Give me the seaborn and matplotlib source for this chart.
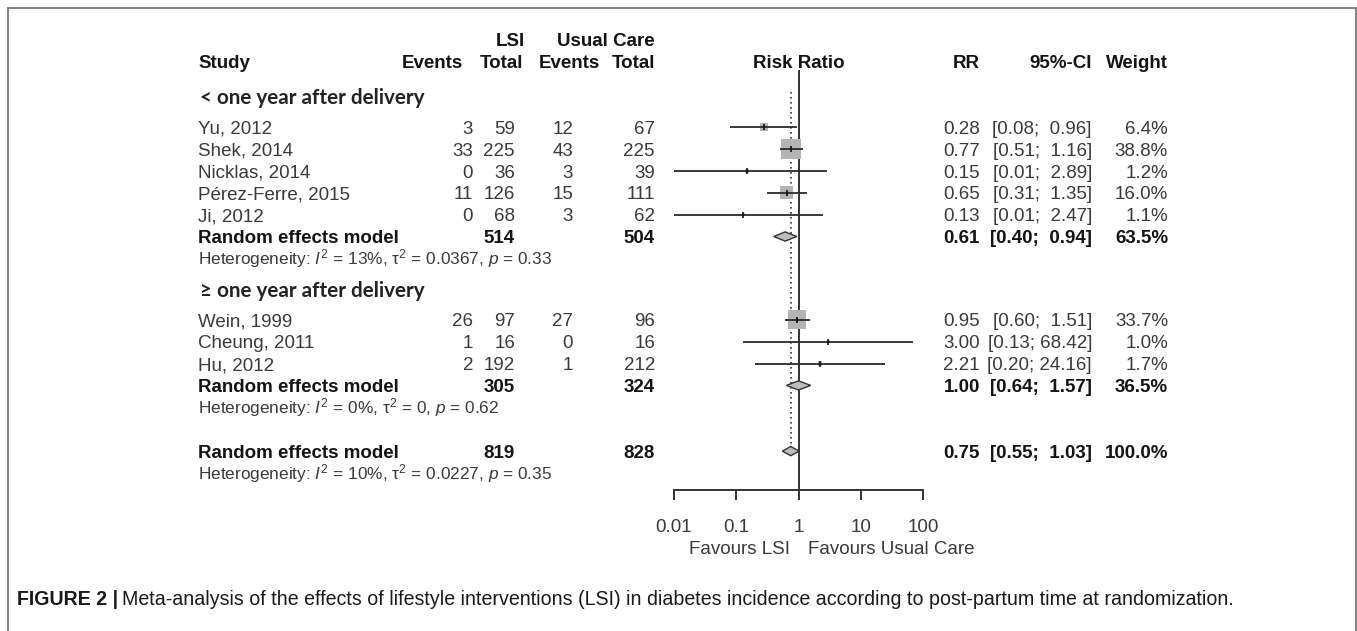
import matplotlib
matplotlib.use("Agg")
import matplotlib.pyplot as plt
import matplotlib.patches as mpatches
import numpy as np
import pandas as pd
import seaborn as sns

# ---- study data -------------------------------------------------------
grp1_study = ["Yu, 2012", "Shek, 2014", "Nicklas, 2014", "Pérez-Ferre, 2015", "Ji, 2012"]
grp1_ev_lsi = [3, 33, 0, 11, 0]
grp1_n_lsi = [59, 225, 36, 126, 68]
grp1_ev_uc = [12, 43, 3, 15, 3]
grp1_n_uc = [67, 225, 39, 111, 62]
grp1_rr = [0.28, 0.77, 0.15, 0.65, 0.13]
grp1_lo = [0.08, 0.51, 0.01, 0.31, 0.01]
grp1_hi = [0.96, 1.16, 2.89, 1.35, 2.47]
grp1_w = [6.4, 38.8, 1.2, 16.0, 1.1]

grp2_study = ["Wein, 1999", "Cheung, 2011", "Hu, 2012"]
grp2_ev_lsi = [26, 1, 2]
grp2_n_lsi = [97, 16, 192]
grp2_ev_uc = [27, 0, 1]
grp2_n_uc = [96, 16, 212]
grp2_rr = [0.95, 3.00, 2.21]
grp2_lo = [0.60, 0.13, 0.20]
grp2_hi = [1.51, 68.42, 24.16]
grp2_w = [33.7, 1.0, 1.7]

# pooled estimates: (RR, lower, upper, weight, total LSI, total usual care)
pooled_grp1 = (0.61, 0.40, 0.94, 63.5, 514, 504)
pooled_grp2 = (1.00, 0.64, 1.57, 36.5, 305, 324)
pooled_all = (0.75, 0.55, 1.03, 100.0, 819, 828)

het_grp1 = ("13%", "0.0367", "0.33")
het_grp2 = ("0%", "0", "0.62")
het_all = ("10%", "0.0227", "0.35")

section_titles = ["< one year after delivery", "\u2265 one year after delivery"]
x_ticks = [0.01, 0.1, 1, 10, 100]
x_tick_labels = ["0.01", "0.1", "1", "10", "100"]

caption_bold = "FIGURE 2 |"
caption_text = ("Meta-analysis of the effects of lifestyle interventions (LSI) in diabetes "
                "incidence according to post-partum time at randomization.")

# ---- layout -----------------------------------------------------------
W, H = 1357, 631
ROW = 21.9          # pixel height of one table row
Y0 = 127            # pixel position of the first study row


def row_of(px):
    return (px - Y0) / ROW


sns.set_theme(style="white")
plt.rcParams["font.family"] = ["Liberation Sans", "DejaVu Sans"]
plt.rcParams["mathtext.fontset"] = "custom"
plt.rcParams["mathtext.rm"] = "Liberation Sans"
plt.rcParams["mathtext.it"] = "Liberation Sans:italic"
plt.rcParams["mathtext.bf"] = "Liberation Sans:bold"

GREY = "#3a3a3a"
DARK = "#141414"
FS = 13.5

fig = plt.figure(figsize=(W / 100, H / 100), dpi=100)
fig.patch.set_facecolor("white")

tab = fig.add_axes([0, 0, 1, 1])
tab.set_xlim(0, W)
tab.set_ylim(row_of(H), row_of(0))
tab.axis("off")

# row slots (in row units)
r_head_top, r_head = -4.0, -3.0
r_sec1 = -1.4
r_g1 = [0, 1, 2, 3, 4]
r_g1_pool, r_g1_het = 5, 6
r_sec2 = 7.4
r_g2 = [8.8, 9.8, 10.8]
r_g2_pool, r_g2_het = 11.8, 12.8
r_all, r_all_het = 14.8, 15.8

# column anchors (pixels)
X_STUDY = 198
X_EV_LSI, X_N_LSI, X_EV_UC, X_N_UC = 473, 515, 573, 655
X_RR, X_CI, X_W = 980, 1092, 1168


def txt(x, y, s, ha="right", bold=False, color=None, size=FS, family=None):
    """Table text; the baseline sits a little below the row centre so that
    rows with and without descenders line up."""
    kw = {}
    if family is not None:
        kw["family"] = family
    base = y + (size * 100 / 72) * 0.36 / ROW
    tab.text(x, base, s, ha=ha, va="baseline", fontsize=size,
             fontweight="bold" if bold else "normal",
             color=color if color else (DARK if bold else GREY), **kw)


# header
txt(525, r_head_top, "LSI", bold=True)
txt(655, r_head_top, "Usual Care", bold=True)
txt(X_STUDY, r_head, "Study", ha="left", bold=True)
txt(463, r_head, "Events", bold=True)
txt(523, r_head, "Total", bold=True)
txt(600, r_head, "Events", bold=True)
txt(655, r_head, "Total", bold=True)
txt(799, r_head, "Risk Ratio", ha="center", bold=True)
txt(X_RR, r_head, "RR", bold=True)
txt(X_CI, r_head, "95%-CI", bold=True)
txt(X_W, r_head, "Weight", bold=True)


def ci_str(lo, hi):
    return f"[{lo:.2f}; {hi:5.2f}]"


def study_rows(rows, names, ev_l, n_l, ev_u, n_u, rr, lo, hi, w):
    for r, nm, a, b, c, d, e, l, h, ww in zip(rows, names, ev_l, n_l, ev_u, n_u, rr, lo, hi, w):
        txt(X_STUDY, r, nm, ha="left")
        txt(X_EV_LSI, r, str(a))
        txt(X_N_LSI, r, str(b))
        txt(X_EV_UC, r, str(c))
        txt(X_N_UC, r, str(d))
        txt(X_RR, r, f"{e:.2f}")
        txt(X_CI, r, ci_str(l, h))
        txt(X_W, r, f"{ww:.1f}%")


def pooled_row(r, pooled):
    rr, lo, hi, w, n_l, n_u = pooled
    txt(X_STUDY, r, "Random effects model", ha="left", bold=True)
    txt(X_N_LSI, r, str(n_l), bold=True)
    txt(X_N_UC, r, str(n_u), bold=True)
    txt(X_RR, r, f"{rr:.2f}", bold=True)
    txt(X_CI, r, ci_str(lo, hi), bold=True)
    txt(X_W, r, f"{w:.1f}%", bold=True)


def het_row(r, het):
    i2, t2, p = het
    s = (r"Heterogeneity: $I^2$ = " + i2 + r", $\mathrm{\tau}^2$ = " + t2
         + r", $p$ = " + p)
    txt(X_STUDY, r, s, ha="left", size=12.4)


SEC_FONT = ["Lato", "DejaVu Sans"]
txt(X_STUDY + 2, r_sec1, section_titles[0], ha="left", bold=True, size=14.9,
    family=SEC_FONT, color="#222222")
study_rows(r_g1, grp1_study, grp1_ev_lsi, grp1_n_lsi, grp1_ev_uc, grp1_n_uc,
           grp1_rr, grp1_lo, grp1_hi, grp1_w)
pooled_row(r_g1_pool, pooled_grp1)
het_row(r_g1_het, het_grp1)

txt(X_STUDY + 2, r_sec2, section_titles[1], ha="left", bold=True, size=14.9,
    family=SEC_FONT, color="#222222")
study_rows(r_g2, grp2_study, grp2_ev_lsi, grp2_n_lsi, grp2_ev_uc, grp2_n_uc,
           grp2_rr, grp2_lo, grp2_hi, grp2_w)
pooled_row(r_g2_pool, pooled_grp2)
het_row(r_g2_het, het_grp2)

pooled_row(r_all, pooled_all)
het_row(r_all_het, het_all)

# ---- forest panel ------------------------------------------------------
AX_L, AX_R, AX_B = 674, 923, 490
ax = fig.add_axes([AX_L / W, (H - AX_B) / H, (AX_R - AX_L) / W, AX_B / H])
ax.patch.set_alpha(0)
ax.set_xscale("log")
ax.set_xlim(0.01, 100)
ax.set_ylim(row_of(AX_B), row_of(0))
for side in ["top", "left", "right"]:
    ax.spines[side].set_visible(False)
ax.spines["bottom"].set_color("#333333")
ax.spines["bottom"].set_linewidth(1.4)
ax.set_xticks(x_ticks)
ax.set_xticklabels(x_tick_labels)
ax.minorticks_off()
ax.tick_params(axis="x", bottom=True, direction="out", length=7, width=1.4,
               color="#333333", pad=14, labelsize=FS, labelcolor=GREY)
ax.set_yticks([])
ax.grid(False)

study_df = pd.DataFrame({
    "row": r_g1 + r_g2,
    "rr": grp1_rr + grp2_rr,
    "lo": grp1_lo + grp2_lo,
    "hi": grp1_hi + grp2_hi,
    "weight": grp1_w + grp2_w,
})

# reference line at no effect and dotted line at the overall estimate
ax.vlines(1, row_of(70), row_of(AX_B), color="#333333", lw=1.4, zorder=1, clip_on=False)
ax.vlines(pooled_all[0], row_of(92), r_all - 0.2, color="#333333", lw=1.2,
          linestyles=(0, (1, 2)), zorder=1, clip_on=False)

# weight squares (area proportional to weight)
sns.scatterplot(data=study_df, x="rr", y="row", size="weight", sizes=(0, 540),
                size_norm=(0, 100), marker="s", color="#b4b4b4", edgecolor="none",
                legend=False, ax=ax, zorder=2, clip_on=False)
# confidence intervals
ax.hlines(study_df["row"], study_df["lo"], study_df["hi"], color="#2a2a2a",
          lw=1.3, zorder=3, clip_on=False)
# point estimates
sns.scatterplot(data=study_df, x="rr", y="row", marker="|", s=16, color="#111111",
                linewidth=1.2, legend=False, ax=ax, zorder=4, clip_on=False)

# pooled diamonds
DH = 0.21
for r, pooled in [(r_g1_pool, pooled_grp1), (r_g2_pool, pooled_grp2), (r_all, pooled_all)]:
    rr, lo, hi = pooled[:3]
    ax.fill([lo, rr, hi, rr], [r, r - DH, r, r + DH], facecolor="#bdbdbd",
            edgecolor="#333333", lw=1.0, zorder=5, clip_on=False)

ax.set_xlabel("")
ax.set_ylabel("")

txt(790, row_of(547), "Favours LSI", ha="right")
txt(808, row_of(547), "Favours Usual Care", ha="left")

# ---- caption and frame -------------------------------------------------
cap_y = row_of(598)
t1 = tab.text(17, cap_y, caption_bold, ha="left", va="center_baseline", fontsize=14.1,
              fontweight="bold", color="#1a1a1a")
fig.canvas.draw()
bb = t1.get_window_extent(renderer=fig.canvas.get_renderer())
tab.text(bb.x1 + 4, cap_y, caption_text, ha="left", va="center_baseline", fontsize=14.1,
         color="#1a1a1a")

fig.add_artist(mpatches.Rectangle((7.5 / W, -0.05), (1355.5 - 7.5) / W, 1.05 - 8 / H,
                                  transform=fig.transFigure, fill=False,
                                  edgecolor="#7a7a7a", lw=1.3))

fig.savefig("out.png", dpi=100, facecolor="white")
